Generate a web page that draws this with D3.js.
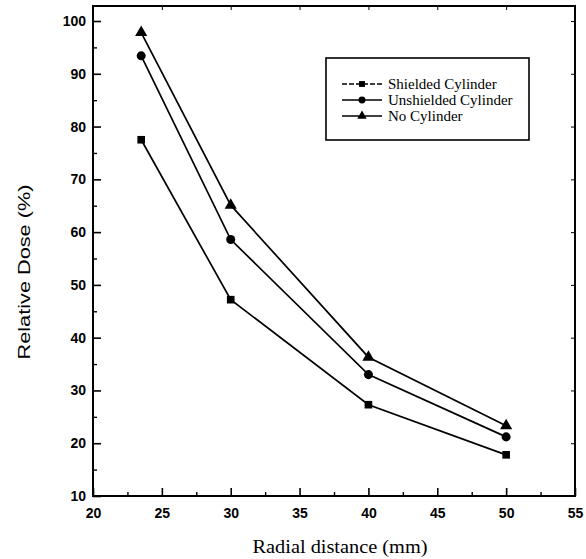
<!DOCTYPE html>
<html><head><meta charset="utf-8">
<script src="https://cdn.jsdelivr.net/npm/d3@7"></script>
<style>body{margin:0;background:#fff}svg{display:block}</style>
</head><body>
<script>
const radial = [23.5, 30, 40, 50];
const shielded = [77.5, 47.2, 27.3, 17.8];
const unshielded = [93.4, 58.6, 33.0, 21.2];
const noCylinder = [97.8, 65.1, 36.3, 23.3];
const seriesNames = ["Shielded Cylinder", "Unshielded Cylinder", "No Cylinder"];
const seriesSymbols = ["square", "circle", "triangle"];
const xTicks = [20, 25, 30, 35, 40, 45, 50, 55];
const yTicks = [10, 20, 30, 40, 50, 60, 70, 80, 90, 100];

const W = 586, H = 559;
const L = 93, R = 575, T = 6, B = 496;
const svg = d3.select("body").append("svg").attr("width", W).attr("height", H);

const x = d3.scaleLinear().domain([20, 55]).range([L, R]);
const y = d3.scaleLinear().domain([10, 100]).range([B, 21]);
const yTop = y.invert(T);
y.domain([10, yTop]).range([B, T]);

const tickFont = "'Liberation Sans', Arial, sans-serif";
const serif = "'Liberation Serif', 'Times New Roman', serif";

const xMinor = d3.range(22.5, 55, 5);
const yMinor = d3.range(15, 100, 10);

// bottom axis
const gx = svg.append("g").attr("transform", `translate(0,${B})`)
  .call(d3.axisBottom(x).tickValues(xTicks).tickSize(-8).tickPadding(12).tickFormat(d3.format("d")));
gx.select(".domain").remove();
gx.selectAll("text").attr("font-family", tickFont).attr("font-weight", "bold").attr("font-size", 14).attr("fill", "#000");
gx.selectAll("line").attr("stroke-width", 1.6);
svg.append("g").attr("transform", `translate(0,${B})`)
  .call(d3.axisBottom(x).tickValues(xMinor).tickSize(-4).tickFormat(""))
  .call(g => g.select(".domain").remove()).selectAll("line").attr("stroke-width", 1.4);

// left axis
const gy = svg.append("g").attr("transform", `translate(${L},0)`)
  .call(d3.axisLeft(y).tickValues(yTicks).tickSize(-8).tickPadding(7).tickFormat(d3.format("d")));
gy.select(".domain").remove();
gy.selectAll("text").attr("font-family", tickFont).attr("font-weight", "bold").attr("font-size", 14).attr("fill", "#000");
gy.selectAll("line").attr("stroke-width", 1.6);
svg.append("g").attr("transform", `translate(${L},0)`)
  .call(d3.axisLeft(y).tickValues(yMinor).tickSize(-4).tickFormat(""))
  .call(g => g.select(".domain").remove()).selectAll("line").attr("stroke-width", 1.4);

// mirror ticks top/right
svg.append("g").attr("transform", `translate(0,${T})`)
  .call(d3.axisTop(x).tickValues(xTicks.slice(1, -1)).tickSize(-4).tickFormat(""))
  .call(g => g.select(".domain").remove()).selectAll("line").attr("stroke-width", 1);
svg.append("g").attr("transform", `translate(${R},0)`)
  .call(d3.axisRight(y).tickValues(yTicks.slice(1)).tickSize(-4).tickFormat(""))
  .call(g => g.select(".domain").remove()).selectAll("line").attr("stroke-width", 1);

// frame
svg.append("rect").attr("x", L).attr("y", T).attr("width", R - L).attr("height", B - T)
  .attr("fill", "none").attr("stroke", "#000").attr("stroke-width", 2);

// series
const allSeries = [shielded, unshielded, noCylinder];
const line = d3.line().x((d, i) => x(radial[i])).y(d => y(d));
const symTypes = { square: d3.symbolSquare, circle: d3.symbolCircle, triangle: d3.symbolTriangle };
const symSizes = { square: 58, circle: 64, triangle: 64 };

allSeries.forEach((vals, k) => {
  svg.append("path").datum(vals).attr("d", line).attr("fill", "none")
    .attr("stroke", "#000").attr("stroke-width", 1.7);
  const sym = d3.symbol().type(symTypes[seriesSymbols[k]]).size(symSizes[seriesSymbols[k]]);
  svg.selectAll(null).data(vals).enter().append("path")
    .attr("d", sym)
    .attr("transform", (d, i) => `translate(${x(radial[i])},${y(d)})`)
    .attr("fill", "#000");
});

// legend
const lg = svg.append("g");
lg.append("rect").attr("x", 326).attr("y", 58).attr("width", 203).attr("height", 82)
  .attr("fill", "#fff").attr("stroke", "#000").attr("stroke-width", 1.6);
seriesNames.forEach((name, k) => {
  const yy = 84 + k * 16;
  lg.append("line").attr("x1", 342).attr("x2", 382).attr("y1", yy).attr("y2", yy)
    .attr("stroke", "#000").attr("stroke-width", 1.5)
    .attr("stroke-dasharray", k === 0 ? "5,2" : null);
  const sym = d3.symbol().type(symTypes[seriesSymbols[k]]).size(symSizes[seriesSymbols[k]] * 0.6);
  lg.append("path").attr("d", sym).attr("transform", `translate(362,${yy})`).attr("fill", "#000");
  lg.append("text").attr("x", 388).attr("y", yy + 4.5).text(name)
    .attr("font-family", serif).attr("font-size", 15).attr("fill", "#000");
});

// axis titles
svg.append("text").attr("x", 340).attr("y", 553).attr("text-anchor", "middle")
  .attr("font-family", serif).attr("font-size", 19).attr("fill", "#000")
  .attr("textLength", 175).attr("lengthAdjust", "spacingAndGlyphs")
  .text("Radial distance (mm)");
svg.append("text").attr("transform", "translate(30,272) rotate(-90)").attr("text-anchor", "middle")
  .attr("font-family", tickFont).attr("font-size", 17).attr("fill", "#000")
  .attr("textLength", 175).attr("lengthAdjust", "spacingAndGlyphs")
  .text("Relative Dose (%)");
</script>
</body></html>
